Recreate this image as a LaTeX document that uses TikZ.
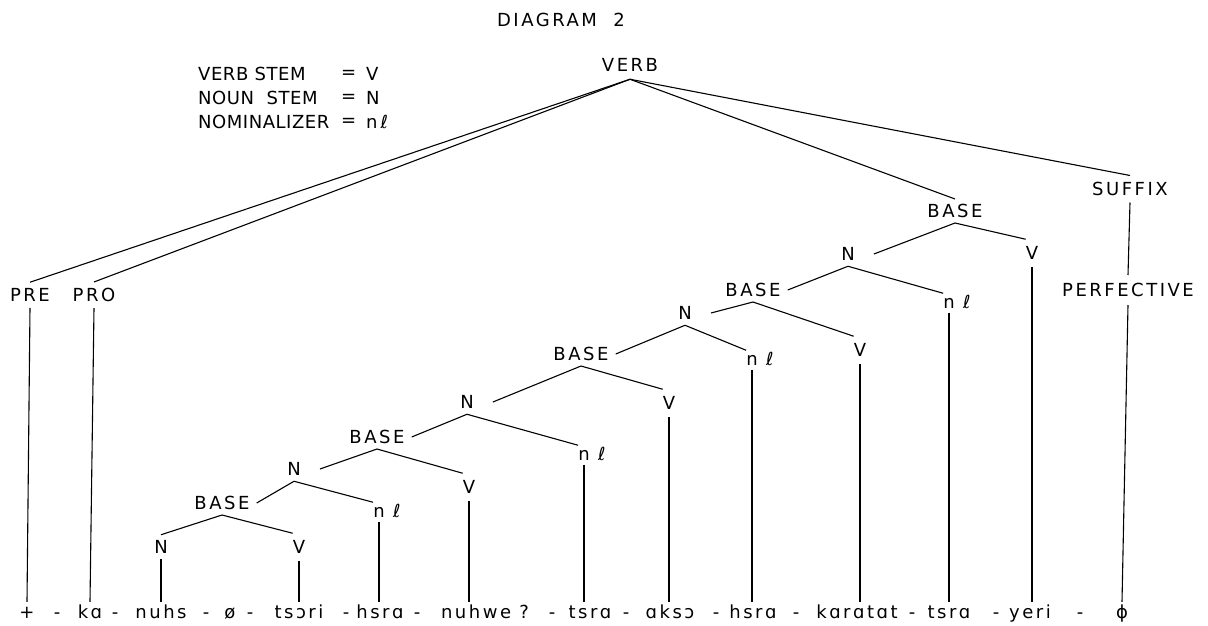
\documentclass[tikz,border=0pt]{standalone}
\usepackage{fontspec}
\newfontfamily\lab{DejaVu Sans}[LetterSpace=14]
\newfontfamily\keyfont{DejaVu Sans}[LetterSpace=3]
\begin{document}
\begin{tikzpicture}[x=1pt,y=-1pt,
  every node/.style={font=\lab\fontsize{18}{20}\selectfont, text=black},
  link/.style={draw=black, line width=1.1pt},
  top/.style={inner xsep=3pt, inner ysep=7.5pt},
  affix/.style={inner sep=6pt},
  basen/.style={inner xsep=7pt, inner ysep=5pt},
  nounn/.style={inner xsep=19pt, inner ysep=5.5pt},
  verbn/.style={inner xsep=0pt, inner ysep=7pt},
  nomn/.style={inner xsep=0pt, inner ysep=4.5pt},
  ell/.style={anchor=base west, inner sep=0pt, font=\lab\itshape\fontsize{18}{20}\selectfont},
  key/.style={anchor=west, inner sep=0pt, font=\keyfont\fontsize{18}{20}\selectfont},
  morph/.style={anchor=base, inner sep=2pt, text height=14pt, text depth=4pt},
]
\fill[white] (0,0) rectangle (1208,626);
\useasboundingbox (0,0) rectangle (1208,626);

% heading and key
\node (title) at (561,20) {DIAGRAM\ \ 2};
\node[key] (k1) at (198,74) {VERB STEM};
\node[key] (k2) at (198,98) {NOUN\ \ STEM};
\node[key] (k3) at (198,122) {NOMINALIZER};
\node[key] (k1e) at (341,74) {=};
\node[key] (k2e) at (341,98) {=};
\node[key] (k3e) at (341,122) {=};
\node[key] (k1v) at (366,74) {V};
\node[key] (k2v) at (366,98) {N};
\node[key] (k3v) at (366,122) {n\,{\itshape ℓ}};

% upper part of the tree
\node[top] (VERB) at (630,65) {VERB};
\node[affix] (PRE) at (30,295) {PRE};
\node[affix] (PRO) at (94,295) {PRO};
\node[inner xsep=3pt, inner ysep=6.5pt] (SUF) at (1130,189) {SUFFIX};
\node[inner xsep=3pt, inner ysep=8pt] (PERF) at (1128,290) {PERFECTIVE};

% nested stems
\node[basen] (B1) at (955,211) {BASE};
\node[nounn] (N1) at (848,254) {N};
\node[verbn] (V1) at (1032,253) {V};
\node[basen] (B2) at (753,290) {BASE};
\node[nomn]  (n1) at (949,303) {n};
\node[nounn] (N2) at (685,313) {N};
\node[verbn] (V2) at (860,350) {V};
\node[basen] (B3) at (581,354) {BASE};
\node[nomn]  (n2) at (752,360) {n};
\node[nounn] (N3) at (467,402) {N};
\node[verbn] (V3) at (669,403) {V};
\node[basen] (B4) at (377,437) {BASE};
\node[nomn]  (n3) at (584,455) {n};
\node[nounn] (N4) at (294,469) {N};
\node[verbn] (V4) at (469,487) {V};
\node[basen] (B5) at (222,503) {BASE};
\node[nomn]  (n4) at (379,512) {n};
\node[nounn] (N5) at (161,547) {N};
\node[verbn] (V5) at (299,547) {V};

\foreach \k in {1,2,3,4}
  \node[ell] (l\k) at ([xshift=8pt]n\k.base east) {ℓ};

% morpheme string
\node[morph] (plus) at (27,618) {+};
\node[morph] (d1) at (57,618) {-};
\node[morph] (ka) at (90,618) {kɑ};
\node[morph] (d2) at (115,618) {-};
\node[morph] (nuhs) at (161,618) {nuhs};
\node[morph] (d3) at (206,618) {-};
\node[morph] (zero) at (230,618) {ø};
\node[morph] (d4) at (250,618) {-};
\node[morph] (tsori) at (299,618) {tsɔri};
\node[morph] (d5) at (346,618) {-};
\node[morph] (hsraA) at (380,618) {hsrɑ};
\node[morph] (d6) at (417,618) {-};
\node[morph] (nuhwe) at (485,618) {nuhwe ?};
\node[morph] (d7) at (552,618) {-};
\node[morph] (tsraA) at (590,618) {tsrɑ};
\node[morph] (d8) at (626,618) {-};
\node[morph] (akso) at (670,618) {ɑksɔ};
\node[morph] (d9) at (716,618) {-};
\node[morph] (hsraB) at (753,618) {hsrɑ};
\node[morph] (d10) at (796,618) {-};
\node[morph] (karatat) at (857,618) {kɑrɑtɑt};
\node[morph] (d11) at (912,618) {-};
\node[morph] (tsraB) at (949,618) {tsrɑ};
\node[morph] (d12) at (996,618) {-};
\node[morph] (yeri) at (1030,618) {yeri};
\node[morph] (d13) at (1080,618) {-};
\node[morph] (phi) at (1122,618) {ϕ};

% branches from VERB
\draw[link] (VERB.south) -- (PRE.north);
\draw[link] (VERB.south) -- (PRO.north);
\draw[link] (VERB.south) -- (B1.north);
\draw[link] (VERB.south) -- (SUF.north);
\draw[link] (SUF.south) -- (PERF.north);

% branches inside the stem
\draw[link] (B1.south) -- (N1.east);
\draw[link] (B1.south) -- (V1.north west);
\draw[link] (N1.south) -- (B2.east);
\draw[link] (N1.south) -- (n1.north west);
\draw[link] (B2.south) -- (N2.east);
\draw[link] (B2.south) -- (V2.north west);
\draw[link] (N2.south) -- (B3.east);
\draw[link] (N2.south) -- (n2.north west);
\draw[link] (B3.south) -- (N3.east);
\draw[link] (B3.south) -- (V3.north west);
\draw[link] (N3.south) -- (B4.east);
\draw[link] (N3.south) -- (n3.north west);
\draw[link] (B4.south) -- (N4.east);
\draw[link] (B4.south) -- (V4.north west);
\draw[link] (N4.south) -- (B5.east);
\draw[link] (N4.south) -- (n4.north west);
\draw[link] (B5.south) -- (N5.north);
\draw[link] (B5.south) -- (V5.north west);

% drops to the morphemes
\draw[link] (PRE.south) -- (plus.north);
\draw[link] (PRO.south) -- (ka.north);
\draw[link] (N5.south) -- (N5.south |- nuhs.north);
\draw[link] (V5.south) -- (V5.south |- tsori.north);
\draw[link] (n4.south) -- (n4.south |- hsraA.north);
\draw[link] (V4.south) -- (V4.south |- nuhwe.north);
\draw[link] (n3.south) -- (n3.south |- tsraA.north);
\draw[link] (V3.south) -- (V3.south |- akso.north);
\draw[link] (n2.south) -- (n2.south |- hsraB.north);
\draw[link] (V2.south) -- (V2.south |- karatat.north);
\draw[link] (n1.south) -- (n1.south |- tsraB.north);
\draw[link] (V1.south) -- (V1.south |- yeri.north);
\draw[link] (PERF.south) -- (phi.north);
\end{tikzpicture}
\end{document}
